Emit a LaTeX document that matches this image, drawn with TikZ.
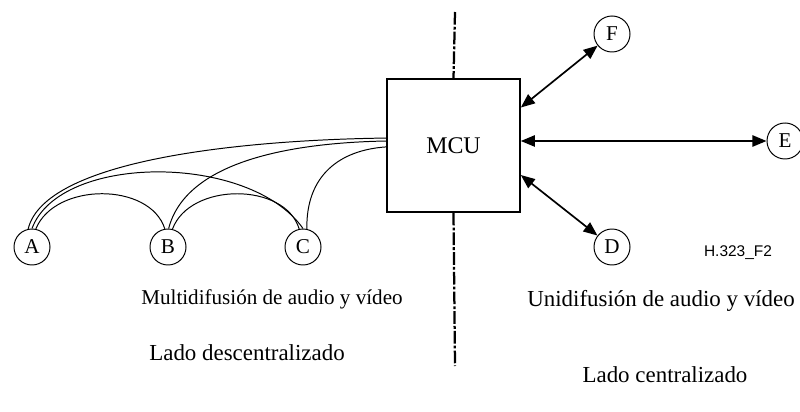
\documentclass[tikz,border=0pt]{standalone}
\usepackage{fontspec}
\setmainfont{Liberation Serif}
\newfontfamily\figsans{Liberation Sans}
\usetikzlibrary{positioning,calc,arrows.meta}

\tikzset{
  term/.style={circle, draw, line width=0.7pt, minimum size=0.9cm, inner sep=0pt,
    font=\fontsize{15}{17}\selectfont},
  mcubox/.style={draw, line width=1.1pt, minimum size=3.325cm, inner sep=0pt,
    font=\fontsize{17}{19}\selectfont},
  link/.style={line width=0.7pt},
  duplex/.style={line width=1.2pt, {Triangle[length=10pt,width=8pt]}-{Triangle[length=10pt,width=8pt]}},
  divide/.style={line width=1.6pt, dash pattern=on 9pt off 1.5pt on 2pt off 1.5pt},
  caption/.style={font=\fontsize{15}{17}\selectfont},
  bigcaption/.style={font=\fontsize{16.3}{19}\selectfont}
}

\begin{document}
\begin{tikzpicture}[x=0.025cm, y=-0.025cm]
    \useasboundingbox (0,0) rectangle (800,412);

    \node [mcubox] (mcu) at (453.5,145.5) {MCU};

    % Decentralized terminals
    \node [term] (A) at (32,247) {A};
    \node [term] (B) at (168,247) {B};
    \node [term] (C) at (303,247) {C};

    % Centralized terminals
    \node [term] (F) at (612,34) {F};
    \node [term] (E) at (785,141) {E};
    \node [term] (D) at (612,247) {D};

    % Dividing line
    \coordinate (ltop) at (455,12);
    \coordinate (lbot) at (455,366);
    \draw [divide] (ltop) -- (mcu.north);
    \draw [divide] (mcu.south) -- (lbot);

    % Multicast links
    \draw [link] (A.102) .. controls (45,160) and (240,140) .. ([yshift=5.3pt]mcu.west);
    \draw [link] (A.90) .. controls (60,153) and (250,153) .. (C.90);
    \draw [link] (A.78) .. controls (55,182) and (150,182) .. (B.100);
    \draw [link] (B.88) .. controls (185,165) and (280,143) .. ([yshift=3.2pt]mcu.west);
    \draw [link] (B.76) .. controls (190,182) and (285,182) .. (C.102);
    \draw [link] (C.78) .. controls (306,175) and (340,150) .. ([yshift=-1pt]mcu.west);

    % Unicast links
    \draw [duplex] ([yshift=27pt]mcu.east) -- (F);
    \draw [duplex] (mcu.east |- E) -- (E);
    \draw [duplex] ([yshift=-21pt]mcu.east) -- (D);

    % Captions
    \node [caption] (multi) at (272,299) {Multidifusión de audio y vídeo};
    \node [bigcaption] (deslado) at (247,353) {Lado descentralizado};
    \node [bigcaption] (uni) at (661,301) {Unidifusión de audio y vídeo};
    \node [bigcaption] (cenlado) at (665,375) {Lado centralizado};
    \node [font=\figsans\fontsize{11}{13}\selectfont] (figid) at (738,253) {H.323\_F2};
\end{tikzpicture}
\end{document}
